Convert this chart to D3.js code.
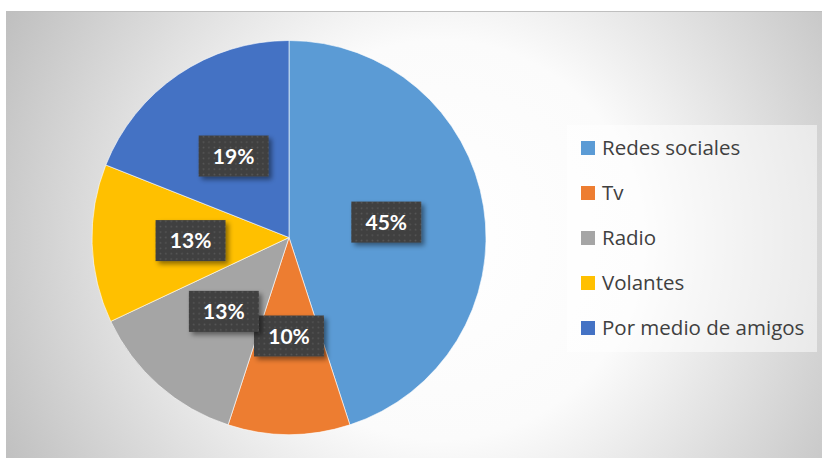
<!DOCTYPE html>
<html>
<head>
<meta charset="utf-8">
<script src="https://cdn.jsdelivr.net/npm/d3@7"></script>
<style>
  body { margin: 0; background: #fff; }
  svg { display: block; }
</style>
</head>
<body>
<script>
// chart data
var categories = ["Redes sociales", "Tv", "Radio", "Volantes", "Por medio de amigos"];
var values = [45, 10, 13, 13, 19];
var labels = ["45%", "10%", "13%", "13%", "19%"];
var colors = ["#5b9bd5", "#ed7d31", "#a5a5a5", "#ffc000", "#4472c4"];

var width = 822, height = 458;

var svg = d3.select("body").append("svg")
    .attr("width", width)
    .attr("height", height);

var defs = svg.append("defs");

// background gradient, white in the middle, grey at the edges
var grad = defs.append("radialGradient")
    .attr("id", "bg")
    .attr("gradientUnits", "userSpaceOnUse")
    .attr("cx", 440).attr("cy", 240).attr("r", 500);
grad.append("stop").attr("offset", "0").attr("stop-color", "#ffffff");
grad.append("stop").attr("offset", "0.4").attr("stop-color", "#fbfbfb");
grad.append("stop").attr("offset", "1").attr("stop-color", "#bdbdbd");

// dotted pattern for the data labels
var pat = defs.append("pattern")
    .attr("id", "dots")
    .attr("patternUnits", "userSpaceOnUse")
    .attr("width", 5.4).attr("height", 5.4);
pat.append("rect").attr("width", 5.4).attr("height", 5.4).attr("fill", "#3f3f3f");
pat.append("rect").attr("x", 1.5).attr("y", 1.5).attr("width", 1.6).attr("height", 1.6).attr("fill", "#585858");

var shadow = defs.append("filter").attr("id", "shadow")
    .attr("x", "-20%").attr("y", "-20%").attr("width", "150%").attr("height", "160%");
shadow.append("feDropShadow")
    .attr("dx", 3).attr("dy", 3).attr("stdDeviation", 2.5)
    .attr("flood-color", "#000").attr("flood-opacity", 0.45);

svg.append("rect")
    .attr("x", 6).attr("y", 11)
    .attr("width", width - 6).attr("height", height - 11)
    .attr("fill", "url(#bg)");
svg.append("line")
    .attr("x1", 6).attr("x2", width).attr("y1", 11.5).attr("y2", 11.5)
    .attr("stroke", "#bfbfbf");

// pie
var cx = 289, cy = 237.5, r = 197;
var g = svg.append("g").attr("transform", "translate(" + cx + "," + cy + ")");

var pie = d3.pie().sort(null).value(function(d) { return d; });
var arcs = pie(values);
var arc = d3.arc().innerRadius(0).outerRadius(r);
var labelArc = d3.arc().innerRadius(r * 0.5).outerRadius(r * 0.5);

g.selectAll("path")
    .data(arcs)
    .enter()
    .append("path")
    .attr("d", arc)
    .attr("fill", function(d, i) { return colors[i]; })
    .attr("stroke", "#ffffff")
    .attr("stroke-opacity", 0.6)
    .attr("stroke-width", 1);

var lab = g.selectAll("g.lab")
    .data(arcs)
    .enter()
    .append("g")
    .attr("class", "lab")
    .attr("transform", function(d) { return "translate(" + labelArc.centroid(d) + ")"; });

lab.append("rect")
    .attr("x", -35).attr("y", -20.5)
    .attr("width", 70).attr("height", 41)
    .attr("fill", "url(#dots)")
    .attr("filter", "url(#shadow)");

lab.append("text")
    .attr("text-anchor", "middle")
    .attr("dy", "0.36em")
    .attr("fill", "#ffffff")
    .style("font-family", "Lato, 'Open Sans', sans-serif")
    .style("font-weight", "bold")
    .style("font-size", "21px")
    .text(function(d, i) { return labels[i]; });

// legend
var legend = svg.append("g");
legend.append("rect")
    .attr("x", 567).attr("y", 125)
    .attr("width", 250).attr("height", 227)
    .attr("fill", "#ffffff").attr("fill-opacity", 0.5);

var item = legend.selectAll("g.item")
    .data(categories)
    .enter()
    .append("g")
    .attr("class", "item")
    .attr("transform", function(d, i) { return "translate(581," + (148 + i * 45) + ")"; });

item.append("rect")
    .attr("x", 0).attr("y", -7)
    .attr("width", 14).attr("height", 14)
    .attr("fill", function(d, i) { return colors[i]; });

item.append("text")
    .attr("x", 21)
    .attr("dy", "0.36em")
    .attr("fill", "#404040")
    .style("font-family", "'Open Sans', sans-serif")
    .style("font-size", "20.5px")
    .text(function(d) { return d; });
</script>
</body>
</html>
